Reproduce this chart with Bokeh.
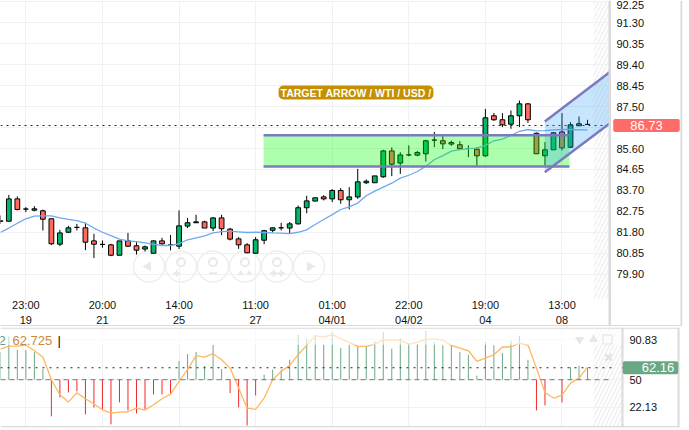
from bokeh.plotting import figure
from bokeh.layouts import column
from bokeh.models import Range1d, FixedTicker, Label, Grid
from bokeh.embed import file_html
from bokeh.resources import INLINE

# ---------- data ----------
opens = [82.30,82.31,83.32,82.86,82.81,82.78,82.42,81.27,81.81,82.03,82.01,81.42,81.26,81.24,80.77,81.42,81.20,81.05,80.86,81.42,81.23,81.18,82.09,82.24,82.28,82.00,82.46,81.95,81.51,81.24,80.86,81.45,81.90,82.01,82.00,82.19,82.92,83.22,83.41,83.32,83.70,83.28,83.41,84.05,84.05,84.32,85.49,84.94,85.31,85.30,85.36,85.98,85.95,85.80,85.77,85.60,85.57,85.27,87.08,86.90,86.70,87.08,87.62,86.29,85.27,85.54,86.35,85.66,86.63,86.69]
closes = [82.33,83.32,82.84,82.86,82.87,82.40,81.29,81.78,82.01,82.03,81.36,81.27,81.26,80.77,81.42,81.18,81.00,81.15,81.42,81.29,81.23,82.10,82.24,82.28,82.00,82.46,81.97,81.50,81.24,80.88,81.47,81.88,82.01,82.01,82.19,82.92,83.23,83.37,83.32,83.70,83.28,83.41,84.09,84.12,84.36,85.49,84.89,85.31,85.31,85.42,85.95,85.98,85.81,85.87,85.59,85.60,85.27,86.99,86.90,86.67,87.08,87.62,86.90,85.36,85.54,86.31,85.63,86.67,86.72,86.69]
highs = [82.57,83.50,83.43,82.95,82.99,82.84,82.43,81.92,82.10,82.19,82.24,81.74,81.44,81.29,81.42,81.78,81.36,81.21,81.44,81.56,81.69,82.80,82.46,82.60,82.33,82.49,82.60,82.01,81.59,81.32,81.59,81.92,82.03,82.24,82.27,83.02,83.46,83.37,83.49,83.76,83.81,83.85,84.68,84.20,84.36,85.54,85.65,85.43,85.74,85.49,85.99,86.35,86.16,85.96,85.93,85.74,85.66,87.39,87.21,87.20,87.32,87.77,87.65,86.32,85.89,86.34,87.20,86.79,87.05,86.90]
lows = [82.19,82.31,82.80,82.72,82.76,81.89,81.23,81.18,81.77,81.89,81.00,80.64,81.11,80.73,80.77,81.14,80.80,80.94,80.86,81.24,80.99,81.05,82.00,82.24,82.00,81.86,81.68,81.44,81.06,80.86,80.85,81.27,81.80,81.89,81.74,82.16,82.67,83.22,83.25,83.17,83.10,82.84,83.32,83.99,84.05,84.27,84.35,84.45,85.25,85.25,85.01,85.66,85.57,85.72,85.54,85.21,84.82,85.22,86.85,86.57,86.49,86.57,86.76,85.36,84.83,85.54,85.51,85.62,86.63,86.66]
moving_avg = [81.80,82.00,82.22,82.42,82.54,82.55,82.55,82.46,82.39,82.34,82.22,82.00,81.81,81.66,81.50,81.42,81.39,81.33,81.26,81.21,81.21,81.29,81.47,81.56,81.65,81.78,81.84,81.86,81.83,81.80,81.81,81.80,81.78,81.77,81.75,81.81,81.92,82.16,82.39,82.61,82.84,82.96,83.13,83.46,83.67,83.85,84.03,84.26,84.39,84.56,84.80,85.09,85.28,85.48,85.55,85.59,85.62,85.74,85.95,86.02,86.19,86.38,86.46,86.40,86.41,86.44,86.46,86.46,86.44,86.44]
osc_bars = [78.1,94.0,80.1,80.1,78.1,60.8,12.8,32.1,37.1,38.2,14.8,21.9,20.2,4.7,27.0,18.9,15.8,20.2,35.1,35.1,35.1,69.0,76.1,78.1,63.9,85.2,60.8,36.5,21.9,3.6,34.1,55.1,60.2,60.2,70.3,95.7,91.3,95.7,85.5,98.4,82.1,85.5,83.8,83.8,88.9,98.4,81.5,92.3,86.2,86.2,99.7,88.2,84.9,84.9,78.1,75.4,54.1,88.2,84.9,77.1,89.6,94.7,70.3,18.9,23.9,50.7,27.0,62.9,64.2,62.9]
osc_line = [81.1,84.2,84.2,85.2,79.4,73.0,50.0,34.8,27.3,36.8,30.7,25.3,19.5,16.2,17.2,17.5,21.2,19.2,24.6,30.7,35.4,48.3,60.2,74.4,73.0,76.4,70.3,61.8,41.5,21.2,19.9,31.4,50.0,58.5,64.6,75.4,84.9,94.7,93.3,95.7,91.6,87.9,83.8,83.8,86.2,90.3,90.3,90.3,86.2,87.9,91.3,91.3,90.3,84.9,82.1,79.4,68.6,72.0,75.4,83.2,83.2,87.2,85.2,61.8,37.1,31.4,34.4,46.6,51.7,62.9]

x_tick_idx = [3,12,21,30,39,48,57,66]
x_tick_labels = ["23:00\n19","20:00\n21","14:00\n25","11:00\n27","01:00\n04/01","22:00\n04/02","19:00\n04","13:00\n08"]
price_ticks = [79.90,80.85,81.80,82.75,83.70,84.65,85.60,86.55,87.50,88.45,89.40,90.35,91.30,92.25]
price_labels = ["79.90","80.85","81.80","82.75","83.70","84.65","85.60","","87.50","88.45","89.40","90.35","91.30","92.25"]
osc_ticks = [22.13,50,90.83]
osc_labels = ["22.13","50","90.83"]
last_price = 86.64
last_price_text = "86.73"
osc_last = 62.16
osc_last_text = "62.16"
zone_x = [30.93,66.88]
zone_y = [84.79,86.20]
chan_x = [63.98,71.6]
chan_upper = [86.82,89.05]
chan_lower = [84.53,86.73]

# ---------- scales ----------
PX = 8.51
X0 = 0.02
W = 683
XFULL = X0 + W/PX
MX1 = X0 + 609/PX
SX1 = X0 + 622/PX
PY = 22.1
top_p = 85.6 + 148/PY
bot_p = 85.6 - 178/PY
idx = list(range(len(opens)))
FONT = "Liberation Sans"
GRID = "#f1f1f1"
EDGE = "#dadada"
UP = "#00b76a"
DOWN = "#ff6a5e"
PURPLE = "#7c7abf"
NAV = "#e9e9e9"

def xp(px):
    return X0 + px/PX

def clean_axis(ax):
    ax.axis_line_color = None
    ax.major_tick_line_color = None
    ax.minor_tick_line_color = None
    ax.major_tick_out = 0
    ax.major_tick_in = 0
    ax.minor_tick_out = 0
    ax.major_label_text_font = FONT
    ax.major_label_text_font_size = "11px"
    ax.major_label_text_color = "#111111"

# ---------- main panel ----------
p = figure(width=W, height=326, output_backend="svg", toolbar_location=None,
           x_range=Range1d(X0, XFULL), y_range=Range1d(bot_p, top_p),
           min_border_left=0, min_border_right=0,
           min_border_top=0, min_border_bottom=0, outline_line_color=None,
           background_fill_color="white", border_fill_color="white",
           y_axis_location="right")
p.xaxis.fixed_location = 79.1
p.xaxis.ticker = FixedTicker(ticks=x_tick_idx)
p.xaxis.major_label_overrides = dict(zip(x_tick_idx, x_tick_labels))
clean_axis(p.xaxis[0])
p.xaxis.major_label_standoff = 7
p.yaxis.fixed_location = MX1
p.yaxis.ticker = FixedTicker(ticks=price_ticks)
p.yaxis.major_label_overrides = dict(zip(price_ticks, price_labels))
clean_axis(p.yaxis[0])
p.yaxis.major_label_standoff = 7
p.xgrid.grid_line_color = GRID
p.ygrid.grid_line_color = GRID

# hatched right margin
p.quad(left=[xp(593)], right=[MX1], bottom=[78.8], top=[top_p], fill_alpha=0, line_alpha=0,
       hatch_pattern="right_diagonal_line", hatch_color="#f0f0f0", hatch_scale=8, hatch_weight=1.5)

# nav buttons
nav_x = [17.47,21.23,24.99,28.75,32.51,36.27]
nav_y = [80.26]*6
p.scatter(nav_x, nav_y, marker="circle", size=31, fill_alpha=0, line_color="#eeeeee", line_width=1.5)
p.scatter([nav_x[0]-0.1], [80.26], marker="triangle", angle=1.5708, size=10, fill_color=NAV, line_alpha=0)
p.scatter([nav_x[5]+0.1], [80.26], marker="triangle", angle=-1.5708, size=10, fill_color=NAV, line_alpha=0)
p.scatter(nav_x[1:5], [80.45]*4, marker="circle", size=8, fill_alpha=0, line_color=NAV, line_width=2)
p.scatter([nav_x[1]-0.5, nav_x[4]-0.4, nav_x[4]+0.5], [79.95]*3, marker="cross", size=7, line_color=NAV, line_width=2)
p.scatter([nav_x[2]], [79.95], marker="dash", size=8, line_color=NAV, line_width=2)
p.scatter([nav_x[3]-0.5, nav_x[3]+0.5], [79.95]*2, marker="triangle", size=6, fill_color=NAV, line_alpha=0)

# candles
body_top = [max(a, b) for a, b in zip(opens, closes)]
body_bot = [min(a, b) for a, b in zip(opens, closes)]
colors = [UP if c >= o else DOWN for o, c in zip(opens, closes)]
p.segment(idx, lows, idx, highs, line_color="black", line_width=1)
p.vbar(x=idx, width=0.56, top=body_top, bottom=body_bot, fill_color=colors, line_color="black", line_width=1)
p.line(idx, moving_avg, line_color="#6fa8f0", line_width=1.3)
p.line([X0, xp(607)], [last_price, last_price], line_color="#222222", line_width=1, line_dash="2 4")

# overlays
p.quad(left=[zone_x[0]], right=[zone_x[1]], bottom=[zone_y[0]], top=[zone_y[1]], fill_color="#00ff00", fill_alpha=0.32, line_alpha=0)
p.patch(chan_x + chan_x[::-1], chan_upper + chan_lower[::-1], fill_color="#2196f3", fill_alpha=0.25, line_alpha=0)
p.segment([zone_x[0]]*2, zone_y, [zone_x[1]]*2, zone_y, line_color=PURPLE, line_width=2.5)
p.line(chan_x, chan_upper, line_color=PURPLE, line_width=2.5)
p.line(chan_x, chan_lower, line_color=PURPLE, line_width=2.5)

# right margin mask and panel edges
p.quad(left=[xp(609)], right=[XFULL], bottom=[bot_p], top=[top_p], fill_color="white", line_alpha=0)
p.quad(left=[xp(608), xp(680), X0], right=[xp(610.5), xp(682), xp(682)],
       bottom=[bot_p+1/PY, bot_p+1/PY, bot_p], top=[top_p, top_p, bot_p+1.5/PY], fill_color=EDGE, line_alpha=0)
p.quad(left=[xp(682)], right=[XFULL], bottom=[bot_p], top=[top_p], fill_color="white", line_alpha=0)

p.add_layout(Label(x=xp(355.5), y=88.13, text="TARGET ARROW / WTI / USD /", text_color="white", text_font=FONT,
                   text_font_size="10.5px", text_font_style="bold", text_align="center", text_baseline="middle",
                   background_fill_color="#c49000", border_radius=5, padding=(2, 1)))
p.add_layout(Label(x=xp(646), y=last_price, text=last_price_text, text_color="white", text_font=FONT,
                   text_font_size="13px", text_align="center", text_baseline="middle",
                   background_fill_color="#ff6b66", border_radius=2, padding=(17, 2)))

# ---------- oscillator panel ----------
SY = 0.985
s_top = 90.83 + 12/SY
s_bot = 22.13 - 20.3/SY
s = figure(width=W, height=104, output_backend="svg", toolbar_location=None,
           x_range=Range1d(X0, XFULL), y_range=Range1d(s_bot, s_top),
           x_axis_location=None, y_axis_location="right", min_border_left=0, min_border_right=0,
           min_border_top=1, min_border_bottom=3, outline_line_color=None,
           background_fill_color="white", border_fill_color="white")
s.yaxis.fixed_location = SX1
s.yaxis.ticker = FixedTicker(ticks=osc_ticks)
s.yaxis.major_label_overrides = dict(zip(osc_ticks, osc_labels))
clean_axis(s.yaxis[0])
s.yaxis.major_label_standoff = 7
s.ygrid.grid_line_color = GRID
s.xgrid.visible = False
s.add_layout(Grid(dimension=0, ticker=FixedTicker(ticks=x_tick_idx), grid_line_color=GRID))

s.quad(left=[xp(593)], right=[SX1], bottom=[s_bot], top=[s_top], fill_alpha=0, line_alpha=0,
       hatch_pattern="right_diagonal_line", hatch_color="#f0f0f0", hatch_scale=8, hatch_weight=1.5)
bar_colors = ["#6aa883" if v >= 50 else "#ee2a2a" for v in osc_bars]
s.segment(idx, [50]*len(idx), idx, osc_bars, line_color=bar_colors, line_width=1)
s.line(idx, osc_line, line_color="#ffb760", line_width=1.3)
dash_end = xp(611)
s.line([X0, dash_end], [50, 50], line_color="#777777", line_width=1, line_dash="5 4")
s.line([X0, dash_end], [osc_last, osc_last], line_color="#222222", line_width=1, line_dash="2 5")
s.quad(left=[X0], right=[SX1], bottom=[85.5], top=[s_top], fill_color="white", fill_alpha=0.6, line_alpha=0)

s.scatter([68.06], [90.83], marker="inverted_triangle", size=9, fill_color="#e6e6e6", line_alpha=0)
s.scatter([69.70], [90.83], marker="triangle", size=9, fill_color="#e6e6e6", line_alpha=0)
s.scatter([71.35], [90.83], marker="square", size=9, fill_alpha=0, line_color="#e2e2e2", line_width=1)
s.scatter([71.47], [72.6], marker="x", size=9, line_color="#e2e2e2", line_width=2.5)

s.quad(left=[SX1], right=[XFULL], bottom=[s_bot], top=[s_top], fill_color="white", line_alpha=0)
s.quad(left=[xp(621), xp(677), X0, X0], right=[xp(623), xp(679), xp(679), xp(679)],
       bottom=[s_bot, s_bot, s_bot, s_top-1.2/SY], top=[s_top, s_top, s_bot+1.5/SY, s_top], fill_color=EDGE, line_alpha=0)
s.scatter([xp(625.5)], [osc_last], marker="triangle", angle=1.5708, size=8, fill_color="#6aa883", line_alpha=0)

s.add_layout(Label(x=xp(-2), y=90.2, text="2", text_color="#5f9a78", text_font=FONT, text_font_size="13px", text_baseline="middle"))
s.add_layout(Label(x=xp(12), y=90.2, text="62.725", text_color="#c98a3c", text_font=FONT, text_font_size="13px", text_baseline="middle"))
s.add_layout(Label(x=xp(57), y=90.2, text="|", text_color="#111111", text_font=FONT, text_font_size="13px", text_baseline="middle"))
s.add_layout(Label(x=xp(650), y=osc_last, text=osc_last_text, text_color="white", text_font=FONT,
                   text_font_size="13px", text_align="center", text_baseline="middle",
                   background_fill_color="#6aa883", border_radius=2, padding=(19, 4, 2, 2)))

page = column(p, s, spacing=0)
open("out.html", "w").write(file_html(page, INLINE))
